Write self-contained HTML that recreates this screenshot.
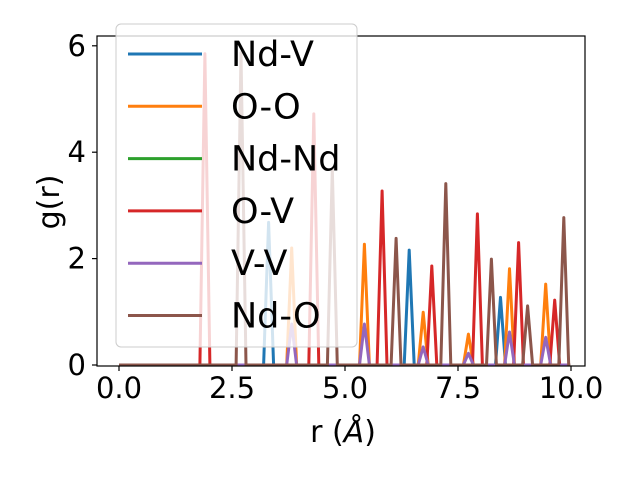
<!DOCTYPE html>
<html><head><meta charset="utf-8"><style>body{margin:0;background:#fff}svg{display:block;font-family:"DejaVu Sans","Liberation Sans",sans-serif}</style></head>
<body>
<svg id="chart" width="640" height="480">
<g id="plot"></g>
</svg>
<script>
const seriesNames = ["Nd-V","O-O","Nd-Nd","O-V","V-V","Nd-O"];
const seriesColors = ["#1f77b4","#ff7f0e","#2ca02c","#d62728","#9467bd","#8c564b"];
const ndvR = [3.31, 6.42, 8.44];
const ndvH = [2.68, 2.16, 1.27];
const ooR = [3.82, 5.43, 6.73, 7.73, 8.64, 9.44];
const ooH = [2.2, 2.27, 0.99, 0.58, 1.81, 1.52];
const ndndR = [];
const ndndH = [];
const ovR = [1.90, 4.31, 5.82, 6.92, 7.93, 8.84, 9.64];
const ovH = [5.85, 4.72, 3.27, 1.86, 2.84, 2.30, 1.22];
const vvR = [3.82, 5.43, 6.73, 7.73, 8.64, 9.44];
const vvH = [0.77, 0.77, 0.34, 0.22, 0.62, 0.52];
const ndoR = [2.70, 4.72, 6.13, 7.23, 8.24, 9.04, 9.84];
const ndoH = [5.87, 3.68, 2.38, 3.41, 1.99, 1.11, 2.77];
const xTicks = [0, 2.5, 5, 7.5, 10];
const xTickLabels = ["0.0","2.5","5.0","7.5","10.0"];
const yTicks = [0, 2, 4, 6];
const yTickLabels = ["0","2","4","6"];

const L=97,R=585,T=36,B=366;
const X=r=>119+r*45.2, Y=v=>365-v*53.2;
const NS="http://www.w3.org/2000/svg";
const svg=document.getElementById('chart'), g=document.getElementById('plot');
function mk(tag,at,parent){const e=document.createElementNS(NS,tag);for(const k in at)e.setAttribute(k,at[k]);(parent||svg).appendChild(e);return e;}
const allR=[ndvR,ooR,ndndR,ovR,vvR,ndoR], allH=[ndvH,ooH,ndndH,ovH,vvH,ndoH];
const hw=0.11;
allR.forEach((rs,i)=>{
  const pts=[[0,0]];
  rs.forEach((r,j)=>{pts.push([r-hw,0],[r,allH[i][j]],[r+hw,0]);});
  pts.push([9.98,0]);
  const p=mk('polyline',{points:pts.map(q=>X(q[0]).toFixed(1)+','+Y(q[1]).toFixed(1)).join(' '),fill:'none',stroke:seriesColors[i],'stroke-width':3,'stroke-linejoin':'round'},g);
  
  
});
const frame=mk('rect',{x:L,y:T,width:R-L,height:B-T,fill:'none',stroke:'#000','stroke-width':1.2});


xTicks.forEach((t,i)=>{
  mk('line',{x1:X(t),x2:X(t),y1:B,y2:B+5,stroke:'#000','stroke-width':1.2});
  const tx=mk('text',{x:X(t),y:398,'text-anchor':'middle','font-size':29});
  tx.textContent=xTickLabels[i];
  
  
});
yTicks.forEach((t,i)=>{
  mk('line',{x1:L-5,x2:L,y1:Y(t),y2:Y(t),stroke:'#000','stroke-width':1.2});
  const tx=mk('text',{x:L-11,y:Y(t)+10,'text-anchor':'end','font-size':29});
  tx.textContent=yTickLabels[i];
  
  
});
const xl=mk('text',{x:343,y:442,'text-anchor':'middle','font-size':30});
xl.innerHTML='r (<tspan font-style="italic">Å</tspan>)';


const yl=mk('text',{x:0,y:0,'text-anchor':'middle','font-size':30,transform:'translate(59,202) rotate(-90)'});
yl.textContent='g(r)';


const lg=mk('g',{});


mk('rect',{x:116,y:24,width:241,height:323,rx:5,fill:'rgba(255,255,255,0.8)',stroke:'#ccc','stroke-width':1},lg);
seriesNames.forEach((n,i)=>{
  const y=54+i*52.3;
  const ln=mk('line',{x1:128,x2:202,y1:y,y2:y,stroke:seriesColors[i],'stroke-width':3},lg);
  
  
  const t=mk('text',{x:231,y:y+12,'font-size':35},lg);
  t.textContent=n;
  
  
});
</script>
</body></html>
